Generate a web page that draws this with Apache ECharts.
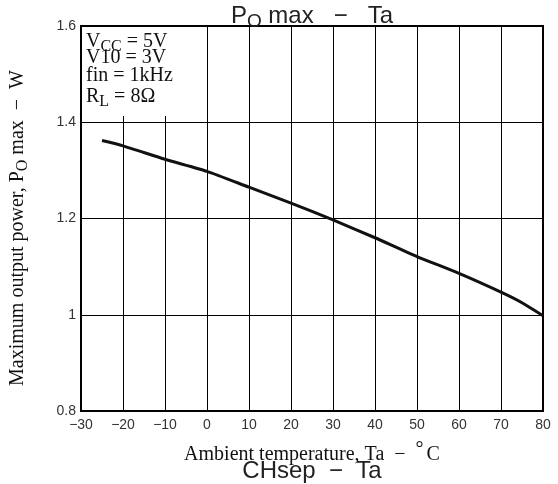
<!DOCTYPE html>
<html>
<head>
<meta charset="utf-8">
<script src="https://cdn.jsdelivr.net/npm/echarts@6/dist/echarts.min.js"></script>
<style>html,body{margin:0;padding:0;background:#fff}#c{width:558px;height:484px}</style>
</head>
<body>
<div id="c"></div>
<script>
const temps = [-25, -20, -10, 0, 10, 20, 30, 40, 50, 60, 70, 75, 80];
const power = [1.362, 1.351, 1.323, 1.298, 1.265, 1.232, 1.197, 1.160, 1.121, 1.086, 1.047, 1.025, 0.998];
const xTicks = [-30, -20, -10, 0, 10, 20, 30, 40, 50, 60, 70, 80];
const yTicks = [0.8, 1, 1.2, 1.4, 1.6];
const conditions = [
  ['V', 'CC', ' = 5V'],
  ['V10 = 3V', '', ''],
  ['fin = 1kHz', '', ''],
  ['R', 'L', ' = 8Ω']
];

const serif = '"Liberation Serif", "Times New Roman", serif';
const sans = '"Liberation Sans", Arial, sans-serif';

const chart = echarts.init(document.getElementById('c'), null, {renderer: 'canvas'});

const condGraphics = conditions.map((c, i) => ({
  type: 'text',
  x: 86,
  y: 29 + i * 18.3,
  z: 10,
  style: {
    verticalAlign: 'top',
    rich: {
      m: {fontFamily: serif, fontSize: 20, fill: '#111'},
      s: {fontFamily: serif, fontSize: 16, fill: '#111', padding: [10, 0, 0, 0]}
    },
    text: '{m|' + c[0] + '}' + (c[1] ? '{s|' + c[1] + '}' : '') + (c[2] ? '{m|' + c[2] + '}' : '')
  }
}));

chart.setOption({
  animation: false,
  grid: {left: 81, right: 15, top: 26, bottom: 73, show: true, borderColor: '#000', borderWidth: 2, backgroundColor: 'transparent'},
  xAxis: {
    type: 'value', min: -30, max: 80, interval: 10,
    name: '{m|Ambient temperature, Ta  −  }{d|°}{m|C}',
    nameLocation: 'middle', nameGap: 29,
    nameTextStyle: {
      rich: {
        m: {fontFamily: serif, fontSize: 20, color: '#111'},
        d: {fontFamily: serif, fontSize: 20, color: '#111', padding: [0, 3, 9, 0]}
      }
    },
    axisLine: {show: false}, axisTick: {show: false},
    splitLine: {show: true, lineStyle: {color: '#000', width: 1}},
    axisLabel: {
      margin: 7, fontFamily: sans, fontSize: 14, color: '#333',
      formatter: v => xTicks.includes(v) ? String(v).replace('-', '\u2212') : ''
    }
  },
  yAxis: {
    type: 'value', min: 0.8, max: 1.6, interval: 0.2,
    axisLine: {show: false}, axisTick: {show: false},
    splitLine: {show: true, lineStyle: {color: '#000', width: 1}},
    axisLabel: {
      margin: 5, fontFamily: sans, fontSize: 14, color: '#333',
      formatter: v => {
        const t = yTicks.find(y => Math.abs(y - v) < 1e-6);
        return t === undefined ? '' : String(t);
      }
    }
  },
  graphic: [
    {type: 'rect', left: 82, top: 27, z: 5, shape: {width: 100, height: 89}, style: {fill: '#fff'}},
    ...condGraphics,
    {
      type: 'text', x: 18, y: 228, rotation: Math.PI / 2, z: 10,
      style: {
        align: 'center', verticalAlign: 'middle',
        rich: {
          m: {fontFamily: serif, fontSize: 20, fill: '#111'},
          s: {fontFamily: serif, fontSize: 16, fill: '#111', padding: [10, 0, 0, 0]}
        },
        text: '{m|Maximum output power, P}{s|O}{m| max  −  W}'
      }
    },
    {
      type: 'text', x: 312, y: 1, z: 10,
      style: {
        align: 'center', verticalAlign: 'top',
        rich: {
          m: {fontFamily: sans, fontSize: 24, fill: '#222'},
          s: {fontFamily: sans, fontSize: 19, fill: '#222', padding: [11, 0, 0, 0]}
        },
        text: '{m|P}{s|O}{m| max   −   Ta}'
      }
    },
    {
      type: 'text', x: 312, y: 471, z: 10,
      style: {align: 'center', verticalAlign: 'middle', fontFamily: sans, fontSize: 24, fill: '#222', text: 'CHsep  −  Ta'}
    }
  ],
  series: [{
    type: 'line',
    data: temps.map((t, i) => [t, power[i]]),
    showSymbol: false,
    smooth: 0.2,
    lineStyle: {color: '#111', width: 3},
    z: 3
  }]
});
</script>
</body>
</html>
